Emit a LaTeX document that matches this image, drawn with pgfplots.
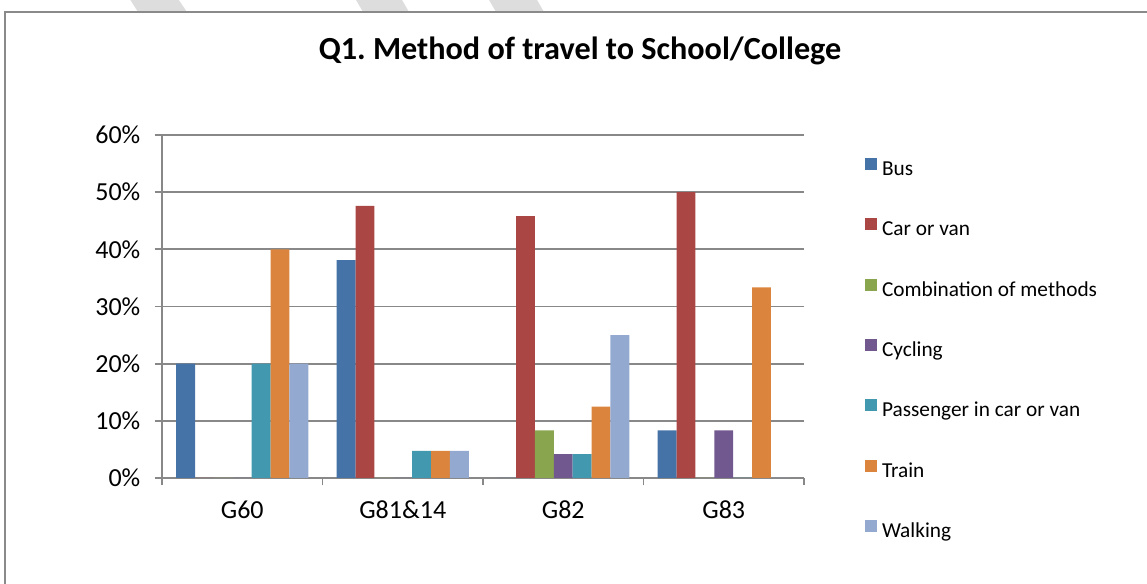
\documentclass[border=0pt]{standalone}
\usepackage{fontspec}
\setmainfont{Carlito}
\usepackage{pgfplots}
\usepackage{pgfplotstable}
\pgfplotsset{compat=1.18}

\definecolor{cBus}{HTML}{4572A7}
\definecolor{cCar}{HTML}{AA4643}
\definecolor{cComb}{HTML}{89A54E}
\definecolor{cCyc}{HTML}{71588F}
\definecolor{cPass}{HTML}{4198AF}
\definecolor{cTrain}{HTML}{DB843D}
\definecolor{cWalk}{HTML}{93A9CF}
\definecolor{gridgrey}{HTML}{888888}
\definecolor{framegrey}{HTML}{8A8A8A}
\definecolor{stripegrey}{HTML}{DDDDDD}

% share of respondents (%) per group and travel method
\pgfplotstableread{
x Bus   Car   Comb Cycling Passenger Train Walking
0 20    0     0    0       20        40    20
1 38.10 47.62 0    0       4.76      4.76  4.76
2 0     45.83 8.33 4.17    4.17      12.5  25
3 8.33  50    0    8.33    0         33.33 0
}\traveldata

\begin{document}
\begin{tikzpicture}[x=1pt,y=1pt]
\useasboundingbox (0,0) rectangle (1147,583);
\begin{scope}
  \clip (0,0) rectangle (1147,583);
  \fill[stripegrey] (126,590) -- (174,590) -- (187,571) -- (138,571) -- cycle;
  \fill[stripegrey] (352,590) -- (398,590) -- (409,571) -- (363,571) -- cycle;
  \fill[stripegrey] (485,590) -- (533,590) -- (544,571) -- (496,571) -- cycle;
  \draw[framegrey, line width=2pt] (5,-10) -- (5,571) -- (1160,571);
\end{scope}

\node[font=\bfseries\fontsize{32.2}{32.2}\selectfont, anchor=base] at (580,523)
  {Q1.\ Method of travel to School/College};

\begin{axis}[
  at={(162pt,105pt)}, anchor=south west,
  scale only axis, width=642pt, height=343pt,
  xmin=-0.5, xmax=3.5, ymin=0, ymax=60,
  ybar, bar width=0.117647,
  axis x line*=bottom, axis y line*=left,
  axis line style={gridgrey, line width=1.8pt, -},
  ymajorgrids, grid style={gridgrey, line width=1.8pt},
  tick align=outside, major tick length=7.5pt,
  tick style={gridgrey, line width=1.8pt},
  xtick={-0.5,0.5,1.5,2.5,3.5}, xticklabels={},
  extra x ticks={0,1,2,3},
  extra x tick labels={G60,G81\&14,G82,G83},
  extra x tick style={major tick length=0pt, tick style={draw=none}},
  ytick={0,10,20,30,40,50,60},
  yticklabels={0\%,10\%,20\%,30\%,40\%,50\%,60\%},
  /pgf/number format/assume math mode=true,
  ticklabel style={font=\fontsize{26}{26}\selectfont, inner sep=0pt},
  yticklabel style={anchor=east, xshift=-14pt},
  xticklabel style={anchor=north, yshift=-23pt},
  legend cell align=left,
  legend style={at={(1.09502,0.93294)}, anchor=north west,
    draw=none, fill=none, inner sep=0pt, outer sep=0pt, row sep=37.8pt,
    font=\fontsize{21.3}{21.3}\selectfont,
    nodes={inner sep=0pt, text height=15pt, text depth=5pt},
    /tikz/every odd column/.append style={column sep=5pt}},
  legend image code/.code={\fill[#1] (0pt,0.5pt) rectangle (12pt,12.5pt);},
]
\addplot[fill=cBus,   draw=none, bar shift=-0.352941] table[x=x, y=Bus]       {\traveldata};
\addplot[fill=cCar,   draw=none, bar shift=-0.235294] table[x=x, y=Car]       {\traveldata};
\addplot[fill=cComb,  draw=none, bar shift=-0.117647] table[x=x, y=Comb]      {\traveldata};
\addplot[fill=cCyc,   draw=none, bar shift=0]         table[x=x, y=Cycling]   {\traveldata};
\addplot[fill=cPass,  draw=none, bar shift=0.117647]  table[x=x, y=Passenger] {\traveldata};
\addplot[fill=cTrain, draw=none, bar shift=0.235294]  table[x=x, y=Train]     {\traveldata};
\addplot[fill=cWalk,  draw=none, bar shift=0.352941]  table[x=x, y=Walking]   {\traveldata};
\legend{Bus,Car or van,Combination of methods,Cycling,Passenger in car or van,Train,Walking}
\end{axis}
\end{tikzpicture}
\end{document}
